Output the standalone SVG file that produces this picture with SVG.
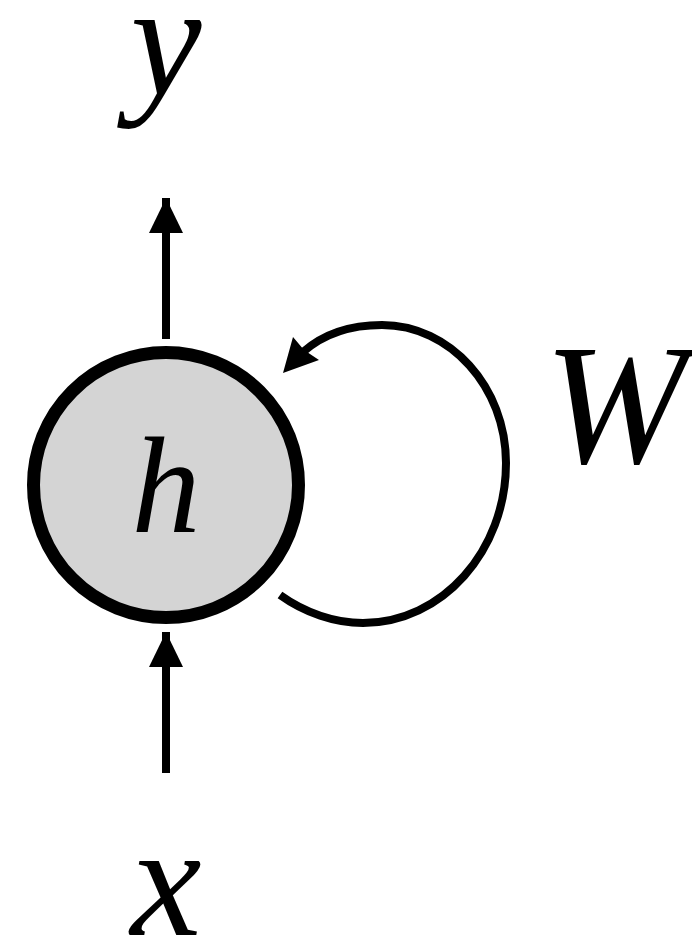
<svg xmlns="http://www.w3.org/2000/svg" width="692" height="942" viewBox="0 0 692 942">
<style>
.lbl{font-family:"Liberation Serif","Times New Roman",serif;font-style:italic;font-size:160px;fill:#000}
.wl{font-family:"Liberation Serif","Times New Roman",serif;font-style:italic;font-size:172px;fill:#000}
.hl{font-family:"Liberation Serif","Times New Roman",serif;font-style:italic;font-size:138px;fill:#000}
.edge{stroke:#000;fill:none}
</style>
<defs>
<marker id="ah" markerUnits="userSpaceOnUse" markerWidth="36" markerHeight="35" refX="35" refY="17" orient="auto" viewBox="0 0 36 35">
<path d="M0,0 L35,17 L0,34 Z" fill="#000"/>
</marker>
</defs>
<g id="connectors">
<line class="edge" x1="166" y1="339" x2="166" y2="198" stroke-width="8" marker-end="url(#ah)"/>
<line class="edge" x1="166" y1="773" x2="166" y2="632" stroke-width="8" marker-end="url(#ah)"/>
<path class="edge" stroke-width="8" d="M280 595 C305 613 335 623 363 623 C442 623 506 551 506 463 C506 387 450 325 382 325 C345 325 320 337 303 352"/>
<polygon points="283,373 293,337 304,350 319,360" fill="#000"/>
</g>
<g id="node-h">
<circle cx="166" cy="485" r="132.5" fill="#d4d4d4" stroke="#000" stroke-width="13"/>
<text class="hl" x="166" y="532" text-anchor="middle">h</text>
</g>
<g id="label-y"><text class="lbl" x="166" y="95" text-anchor="middle">y</text></g>
<g id="label-x"><text class="lbl" x="166" y="935" text-anchor="middle">x</text></g>
<g id="label-W"><text class="wl" x="544" y="462">W</text></g>
</svg>
